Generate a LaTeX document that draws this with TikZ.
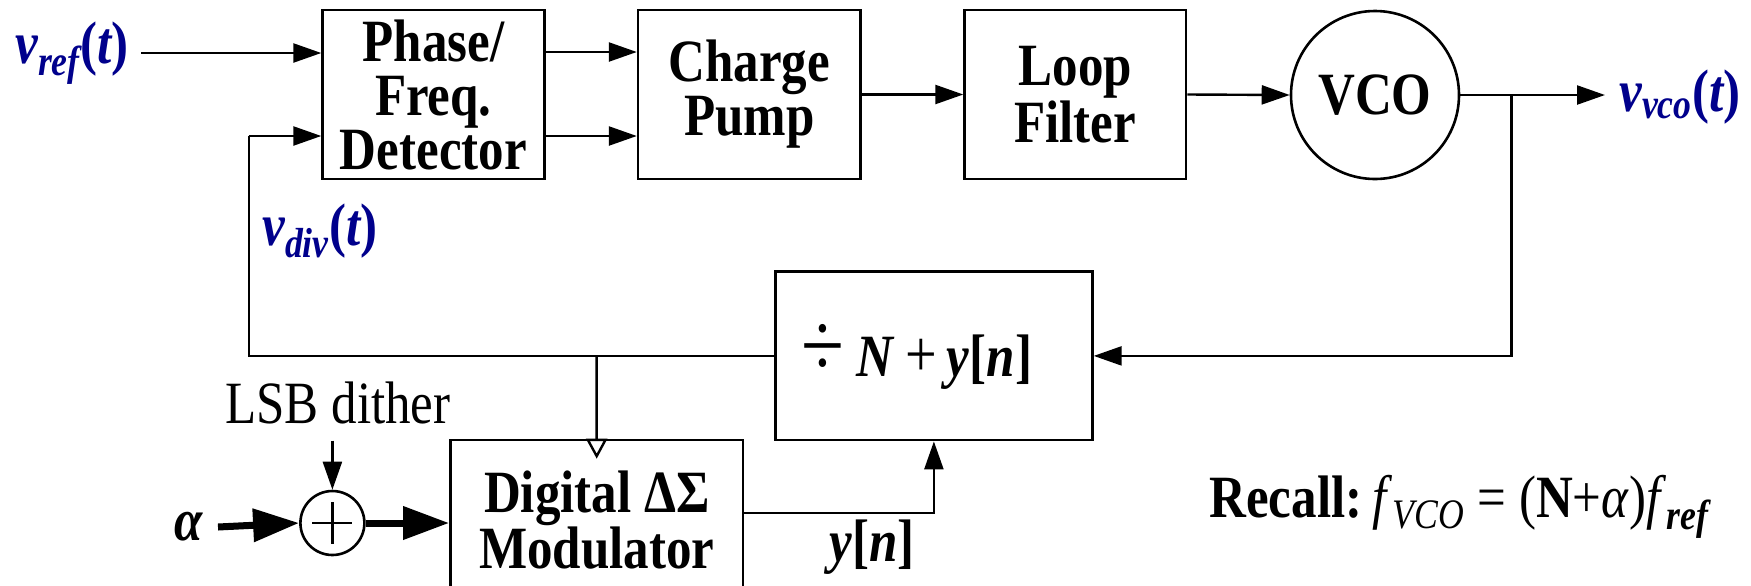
\documentclass[tikz,border=0pt]{standalone}
\usepackage{fontspec}
\setmainfont[FakeStretch=0.85]{Liberation Serif}
\usetikzlibrary{arrows.meta,calc}
\definecolor{sigblue}{RGB}{0,0,140}
\begin{document}
\begin{tikzpicture}[x=0.5pt,y=-0.5pt,
  blk/.style={draw, line width=1.3pt, inner sep=0pt, align=center,
    font=\bfseries\fontsize{30}{27}\selectfont},
  arr/.style={line width=1.2pt, -{Triangle[length=14pt,width=9.5pt]}},
  fatarr/.style={line width=3.5pt, -{Triangle[length=23pt,width=16pt]}},
  openarr/.style={line width=1.2pt, -{Triangle[open,length=10pt,width=10.5pt,line width=1.2pt]}},
  wire/.style={line width=1.2pt},
  lbl/.style={inner sep=0pt, font=\fontsize{30}{27}\selectfont},
  sig/.style={inner sep=0pt, text=sigblue, font=\bfseries\itshape\fontsize{30}{27}\selectfont}
]
\useasboundingbox (0,0) rectangle (1751,585);
\begin{scope}
\clip (0,0) rectangle (1751,585);

% blocks
\node[blk, minimum width=110.8pt, minimum height=84.5pt] (pfd) at (433.4,94.5) {Phase/\\Freq.\\Detector};
\node[blk, minimum width=111.2pt, minimum height=84.5pt] (cp) at (749.3,94.5) {Charge\\Pump};
\node[blk, minimum width=110.7pt, minimum height=84.5pt] (lf) at (1075.3,94.5) {Loop\\Filter};
\node[blk, circle, minimum size=84pt] (vco) at (1375,95) {VCO};
\node[blk, minimum width=158.5pt, minimum height=84.2pt] (div) at (933.9,355.9) {};
\node[lbl] (divtxt) at (917,357)
  {{\fontsize{46}{40}\selectfont ÷}\kern6pt\textbf{\textit{N}}\kern5pt{\fontsize{33}{30}\selectfont +}\kern5pt\textbf{\textit{y}[\textit{n}]}};
\node[blk, minimum width=146.3pt, minimum height=80pt] (dsm) at (596.7,520) {Digital ΔΣ\\Modulator};
\node[draw, circle, line width=1.3pt, minimum size=32pt, inner sep=0pt] (sum) at (332.4,523) {};
\draw[line width=1.2pt] ($(sum.center)+(-20,0)$) -- ($(sum.center)+(20,0)$);
\draw[line width=1.2pt] ($(sum.center)+(0,-21)$) -- ($(sum.center)+(0,21)$);

% labels
\node[sig, anchor=west] (vref) at (15,53) {v\textsubscript{ref}{\upshape(}t{\upshape)}};
\node[sig, anchor=west] (vdiv) at (262,231) {v\textsubscript{div}{\upshape(}t{\upshape)}};
\node[sig, anchor=west] (vvco) at (1619,97) {v\textsubscript{vco}{\upshape(}t{\upshape)}};
\node[lbl, anchor=east, inner xsep=7pt] (alpha) at (218,527) {\textbf{\textit{α}}};
\node[lbl] (lsb) at (338,403) {LSB dither};
\node[lbl] (yn) at (872,547) {\textbf{\textit{y}[\textit{n}]}};
\node[lbl, anchor=west] (recall) at (1209,507)
  {\textbf{Recall:}\,\textit{f}\textsubscript{\textit{VCO}} = (\textbf{N}+\textit{α})\textit{f}\textsubscript{\textbf{\textit{ref}}}};

% coordinates
\coordinate (j) at (1511.6,94.5);
\coordinate (fb) at (248.7,136);
\coordinate (tap) at (596.6,355.9);

% connectors
\draw[arr] ($(vref.east)+(12,0)$) -- (vref.east -| pfd.west);
\draw[arr] ($(pfd.east)+(0,-42.5)$) -- ($(cp.west)+(0,-42.5)$);
\draw[arr] ($(pfd.east)+(0,41.5)$) -- ($(cp.west)+(0,41.5)$);
\draw[arr] (cp.east) -- (lf.west);
\draw[arr] (lf.east) -- (vco.west);
\draw[arr] (vco.east) -- ($(vvco.west |- vco.east)+(-14,0)$);
\draw[arr] (j) |- (div.east);
\draw[wire] (div.west) -| (fb);
\draw[arr] (fb) -- (fb -| pfd.west);
\draw[openarr] (tap) -- ($(dsm.north)+(0,20)$);
\draw[arr] ($(dsm.east)+(0,-7)$) -| (div.south);
\draw[fatarr] (alpha.east) -- (sum.west);
\draw[fatarr] (sum.east) -- (sum.east -| dsm.west);
\draw[arr] ($(sum.north |- lsb.south)+(0,16)$) -- (sum.north);
\end{scope}
\end{tikzpicture}
\end{document}
